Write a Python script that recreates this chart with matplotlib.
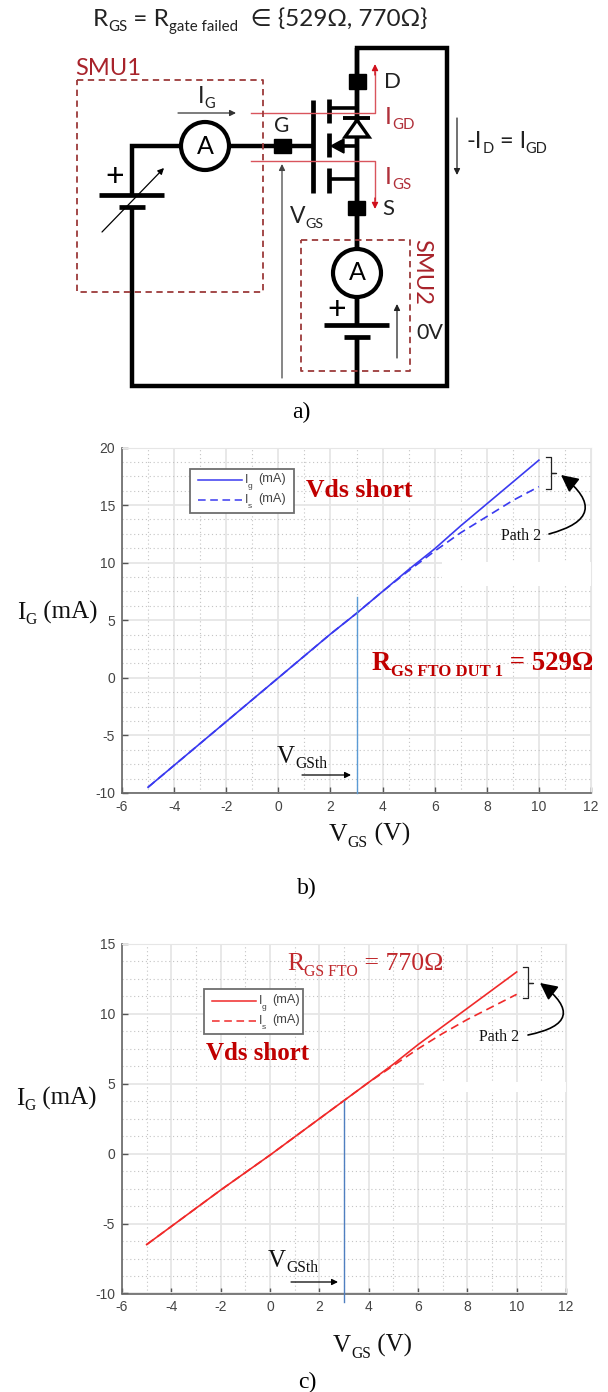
import matplotlib
matplotlib.use("Agg")
import matplotlib.pyplot as plt
from matplotlib.patches import Circle, Polygon, Rectangle, FancyArrowPatch

# Datos
vgs = [-5, -4, -3, -2, -1, 0, 1, 2, 3, 4, 5, 6, 7, 8, 9, 10]
ig_b = [-9.5, -7.6, -5.7, -3.8, -1.9, 0, 1.9, 3.8, 5.6, 7.5, 9.4, 11.2, 13.2, 15.1, 17.0, 18.9]
is_b = [-9.5, -7.6, -5.7, -3.8, -1.9, 0, 1.9, 3.8, 5.6, 7.5, 9.3, 11.0, 12.6, 14.0, 15.4, 16.6]
ig_c = [-6.5, -5.2, -3.9, -2.6, -1.35, -0.1, 1.2, 2.5, 3.8, 5.1, 6.4, 7.8, 9.1, 10.4, 11.7, 13.0]
is_c = [-6.5, -5.2, -3.9, -2.6, -1.35, -0.1, 1.2, 2.5, 3.8, 5.1, 6.3, 7.5, 8.6, 9.6, 10.5, 11.4]
vgsth = 3
xticks = [-6, -4, -2, 0, 2, 4, 6, 8, 10, 12]
yticks_b = [-10, -5, 0, 5, 10, 15, 20]
yticks_c = [-10, -5, 0, 5, 10, 15]

W, H = 608, 1392
SERIF = "Liberation Serif"
SANS = ["Lato", "DejaVu Sans"]
RED = "#a8232b"
DRED = "#c00000"
BOX = "#9c3a3a"

plt.rcParams["font.family"] = ["Liberation Sans", "DejaVu Sans"]
plt.rcParams["axes.unicode_minus"] = False
fig = plt.figure(figsize=(W / 100, H / 100), dpi=100)


def make_axes(left, right, top, bottom):
    return fig.add_axes([left / W, 1 - bottom / H, (right - left) / W, (bottom - top) / H])


def plot_iv(ax, ig, ids, color, yticks, mask, vline, vcolor):
    ax.set_xlim(-6, 12)
    ax.set_ylim(yticks[0], yticks[-1])
    ax.set_xticks(xticks)
    ax.set_yticks(yticks)
    ax.set_xticks(range(-5, 12, 2), minor=True)
    ax.set_yticks([yticks[0] + 1.25 * i for i in range(int((yticks[-1] - yticks[0]) / 1.25) + 1)], minor=True)
    ax.set_axisbelow(True)
    ax.grid(which="major", color="#e6e6e6", lw=1.3)
    ax.grid(which="minor", color="#c4c4c4", lw=0.8, ls=(0, (1, 2.5)))
    ax.tick_params(which="major", direction="in", length=4, width=1, color="#555555", labelcolor="#444444", labelsize=10, pad=5)
    ax.tick_params(which="minor", length=0)
    for s in ["left", "bottom"]:
        ax.spines[s].set_color("#666666")
        ax.spines[s].set_linewidth(1.2)
    for s in ["top", "right"]:
        ax.spines[s].set_color("#e6e6e6")
    # zona blanca que tapa la grilla en la figura original
    ax.add_patch(Rectangle((mask[0], mask[1]), 12 - mask[0], mask[2] - mask[1], color="white", lw=0, zorder=1))
    ax.plot(vgs, ig, color=color, lw=1.2, zorder=3)
    ax.plot(vgs, ids, color=color, lw=1.2, ls=(0, (5, 3)), zorder=3)
    ax.plot(vline[0], vline[1], color=vcolor, lw=1, zorder=4, clip_on=False)


ax_b = make_axes(122, 591, 447.5, 793)
plot_iv(ax_b, ig_b, is_b, "#3a3af0", yticks_b, (6.3, 8.0, 10.1), ([vgsth, vgsth], [-10, 7]), "#5b9bd5")
ax_c = make_axes(122, 566, 944, 1293.5)
plot_iv(ax_c, ig_c, is_c, "#f02a2a", yticks_c, (6.25, 4.4, 5.1), ([vgsth, vgsth], [-10.6, 3.8]), "#4f7fc0")

# Capa en pixeles para el circuito y las anotaciones
ov = fig.add_axes([0, 0, 1, 1], zorder=10)
ov.set_xlim(0, W)
ov.set_ylim(H, 0)
ov.axis("off")
ov.patch.set_alpha(0)


def runs(x, y, parts, size, family=SERIF, color="black", weight="normal", sub=0.62, drop=0.22):
    """Escribe texto con subindices, un tramo detras de otro."""
    r = fig.canvas.get_renderer()
    for s, is_sub in parts:
        fs = size * sub if is_sub else size
        yy = y + size * drop * 100 / 72 if is_sub else y
        t = ov.text(x, yy, s, fontsize=fs, family=family, color=color, weight=weight, va="baseline", ha="left")
        x += t.get_window_extent(r).width
        if s.endswith(" "):
            x += fs * 0.25 * 100 / 72


def wire(xs, ys, lw=3.2, color="black", z=2, **kw):
    ov.plot(xs, ys, color=color, lw=lw, solid_capstyle="butt", solid_joinstyle="miter", zorder=z, **kw)


def arrow(p0, p1, color="black", lw=0.9, ms=10, head="-|>", rad=0):
    ov.add_patch(FancyArrowPatch(p0, p1, arrowstyle=head, mutation_scale=ms, color=color, lw=lw,
                                 shrinkA=0, shrinkB=0, connectionstyle=f"arc3,rad={rad}", zorder=6))


def ammeter(x, y, r):
    ov.add_patch(Circle((x, y), r, fc="white", ec="black", lw=3, zorder=4))
    ov.text(x, y, "A", fontsize=18, family=SANS, ha="center", va="center", zorder=5)


def node(x0, x1, y0, y1):
    ov.add_patch(Rectangle((x0, y0), x1 - x0, y1 - y0, color="black", zorder=5))


# Titulo
runs(93, 26, [("R", 0), ("GS", 1), (" = R", 0), ("gate failed", 1), ("  \u2208 {529\u03a9, 770\u03a9}", 0)], 17.5, SANS, "#222222")

# Cables
wire([357, 357, 447, 447, 132, 132], [386, 48, 48, 386, 386, 207])
wire([132, 132, 312], [195, 146, 146])
wire([357, 357], [48, 386])
wire([313, 313], [100, 193], lw=3.4)
for y0, y1 in [(99, 123), (133, 157), (168, 193)]:
    wire([329, 329], [y0, y1], lw=3.4)
wire([329, 357], [108, 108], lw=2.6)
wire([329, 357], [179, 179], lw=2.6)
wire([335, 357], [146, 146], lw=2.6)
ov.add_patch(Polygon([[331, 146], [344, 139], [344, 153]], color="black", zorder=5))

# Diodo
ov.add_patch(Polygon([[357, 120], [345, 137], [369, 137]], fc="white", ec="black", lw=2.4, zorder=4))
wire([343, 370], [118, 118], lw=2.8, z=5)

# Nodos
node(349, 366, 74, 89)
node(348, 365, 201, 215)
node(274, 291, 139, 153)

# Amperimetros
ammeter(205, 146, 24)
ammeter(357, 273, 24)

# Fuentes
wire([99, 164], [195, 195], lw=3.4, z=5)
wire([119, 145], [207, 207], lw=3.4, z=5)
wire([324, 389], [325, 325], lw=3.4, z=5)
wire([344, 370], [337, 337], lw=3.4, z=5)
ov.add_patch(Rectangle((340, 326), 34, 10, color="white", zorder=4))
ov.text(115, 177, "+", fontsize=23, family=SANS, ha="center", va="center")
ov.text(337, 310, "+", fontsize=23, family=SANS, ha="center", va="center")
arrow((102, 232), (164, 168), lw=0.9, ms=9)

# Cajas SMU
for x0, x1, y0, y1 in [(77, 263, 80, 292), (301, 410, 240, 371)]:
    ov.plot([x0, x1, x1, x0, x0], [y0, y0, y1, y1, y0], color=BOX, lw=1.3, ls=(0, (3.5, 2.5)), zorder=7)
ov.text(75, 75, "SMU1", fontsize=17, family=SANS, color=RED, va="baseline", ha="left")
ov.text(422, 272, "SMU2", fontsize=17, family=SANS, color=RED, va="center", ha="center", rotation=-90)

# Corrientes en rojo
ov.plot([251, 375, 375], [113, 113, 72], color="#d9545c", lw=1, zorder=3)
ov.plot([251, 375, 375], [161, 161, 200], color="#d9545c", lw=1, zorder=3)
arrow((375, 75), (375, 64), color="#d0101c", ms=9, lw=1)
arrow((375, 198), (375, 209), color="#d0101c", ms=9, lw=1)

# Etiquetas
runs(198, 103, [("I", 0), ("G", 1)], 17, SANS, "#222222")
arrow((178, 113), (236, 113), ms=9, color="#333333")
ov.text(282, 126, "G", fontsize=15, family=SANS, ha="center", va="center", color="#222222")
ov.text(392, 82, "D", fontsize=16, family=SANS, ha="center", va="center", color="#222222")
ov.text(382, 209, "S", fontsize=16, family=SANS, ha="left", va="center", color="#222222")
runs(385, 124, [("I", 0), ("GD", 1)], 17.5, SANS, "#b0303a")
runs(385, 184, [("I", 0), ("GS", 1)], 17.5, SANS, "#b0303a")
runs(290, 223, [("V", 0), ("GS", 1)], 16.5, SANS, "#222222")
runs(467, 148, [("-I", 0), ("D", 1), (" = I", 0), ("GD", 1)], 17, SANS, "#222222")
arrow((457, 118), (457, 175), ms=9, color="#222222")
arrow((282, 378), (282, 164), ms=9, color="#444444")
arrow((397, 358), (397, 304), ms=9, color="#222222")
ov.text(416, 339, "0V", fontsize=15.5, family=SANS, va="baseline", color="#222222")
ov.text(301, 418, "a)", fontsize=17, family=SERIF, ha="center", va="baseline")

# Anotaciones panel b
runs(17, 619, [("I", 0), ("G", 1), (" (mA)", 0)], 18, SERIF, "#111111")
runs(329, 841, [("V", 0), ("GS", 1), (" (V)", 0)], 18.5, SERIF, "#111111")
runs(306, 497, [("Vds short", 0)], 18.5, SERIF, DRED, "bold")
runs(372, 670, [("R", 0), ("GS FTO DUT 1", 1), (" = 529\u03a9", 0)], 19.3, SERIF, DRED, "bold")
runs(277, 763, [("V", 0), ("GSth", 1)], 18, SERIF, "#111111")
arrow((302, 775), (351, 775), ms=9)
runs(501, 540, [("Path 2", 0)], 11.5, SERIF, "#111111")
ov.text(307, 894, "b)", fontsize=17, family=SERIF, ha="center", va="baseline")
arrow((549, 534), (561, 475), lw=1.2, ms=26, rad=1.0)
ov.plot([546, 551, 551, 556, 551, 551, 546], [457, 457, 473, 473, 473, 489, 489], color="#222222", lw=0.9, zorder=6)

# Anotaciones panel c
runs(16, 1105, [("I", 0), ("G", 1), (" (mA)", 0)], 18, SERIF, "#111111")
runs(333, 1352, [("V", 0), ("GS", 1), (" (V)", 0)], 18, SERIF, "#111111")
runs(206, 1060, [("Vds short", 0)], 18, SERIF, DRED, "bold")
runs(287, 970, [("R", 0), ("GS FTO", 1), (" = 770\u03a9", 0)], 18.5, SERIF, "#c0282c")
runs(268, 1267, [("V", 0), ("GSth", 1)], 18, SERIF, "#111111")
arrow((291, 1282), (338, 1282), ms=9)
runs(479, 1041, [("Path 2", 0)], 11.5, SERIF, "#111111")
ov.text(307, 1388, "c)", fontsize=17, family=SERIF, ha="center", va="baseline")
arrow((528, 1035), (540, 983), lw=1.2, ms=26, rad=1.1)
ov.plot([523, 528, 528, 533, 528, 528, 523], [967, 967, 983, 983, 983, 998, 998], color="#222222", lw=0.9, zorder=6)


def legend_box(x0, x1, y0, y1, color):
    ov.add_patch(Rectangle((x0, y0), x1 - x0, y1 - y0, fc="white", ec="#6e6e6e", lw=1.3, zorder=6))
    ym1, ym2 = y0 + (y1 - y0) * 0.26, y0 + (y1 - y0) * 0.71
    ov.plot([x0 + 8, x0 + 52], [ym1, ym1], color=color, lw=1.1, zorder=7)
    ov.plot([x0 + 8, x0 + 52], [ym2, ym2], color=color, lw=1.1, ls=(0, (5, 3)), zorder=7)
    for ym, s in [(ym1, "g"), (ym2, "s")]:
        ov.text(x0 + 55, ym + 3, "I", fontsize=9, color="#444444", va="baseline", zorder=7)
        ov.text(x0 + 58, ym + 8, s, fontsize=6, color="#444444", va="baseline", zorder=7)
        ov.text(x0 + 68, ym + 2, "(mA)", fontsize=9.2, color="#444444", va="baseline", zorder=7)


legend_box(190, 294, 469, 513, "#3a3af0")
legend_box(204, 303, 989, 1034, "#f02a2a")

fig.savefig("out.png", dpi=100)
